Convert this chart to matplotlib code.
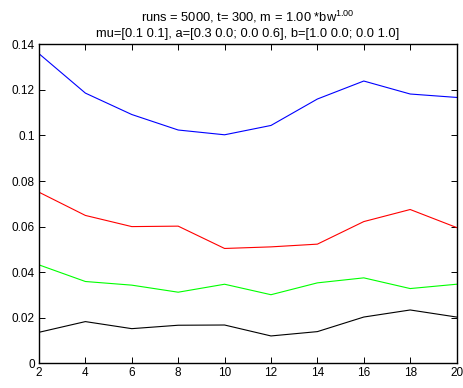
import matplotlib
matplotlib.use('Agg')
import matplotlib.pyplot as plt

plt.rcParams['font.family'] = 'Liberation Sans'
plt.rcParams['mathtext.default'] = 'regular'

x = [2, 4, 6, 8, 10, 12, 14, 16, 18, 20]
blue = [0.1359, 0.1186, 0.1092, 0.1024, 0.1003, 0.1044, 0.1160, 0.1239, 0.1182, 0.1167]
red = [0.0751, 0.0649, 0.0600, 0.0602, 0.0504, 0.0511, 0.0523, 0.0622, 0.0675, 0.0596]
green = [0.0432, 0.0359, 0.0343, 0.0312, 0.0347, 0.0301, 0.0353, 0.0375, 0.0328, 0.0347]
black = [0.0136, 0.0183, 0.0152, 0.0167, 0.0168, 0.0120, 0.0139, 0.0203, 0.0234, 0.0203]

xticks = [2, 4, 6, 8, 10, 12, 14, 16, 18, 20]
yticks = [0, 0.02, 0.04, 0.06, 0.08, 0.1, 0.12, 0.14]
ylabels = ['0', '0.02', '0.04', '0.06', '0.08', '0.1', '0.12', '0.14']

fig = plt.figure(figsize=(4.64, 3.88), dpi=100)
ax = fig.add_axes([0.084, 0.0637, 0.900, 0.822])

ax.plot(x, blue, color='#0000ff', lw=0.8)
ax.plot(x, red, color='#ff0000', lw=0.8)
ax.plot(x, green, color='#00ff00', lw=0.8)
ax.plot(x, black, color='#000000', lw=0.8)

ax.set_xlim(2, 20)
ax.set_ylim(0, 0.14)
ax.set_xticks(xticks)
ax.set_yticks(yticks)
ax.set_yticklabels(ylabels)
ax.tick_params(direction='in', top=True, right=True, length=4, width=0.7,
               labelsize=8.5, pad=3)
for s in ax.spines.values():
    s.set_linewidth(1.0)

ax.set_title('runs = 5000, t= 300, m = 1.00 *bw$^{1.00}$\n'
             'mu=[0.1 0.1], a=[0.3 0.0; 0.0 0.6], b=[1.0 0.0; 0.0 1.0]',
             fontsize=9.3, pad=5, linespacing=1.35)

fig.savefig('out.png', dpi=100)
